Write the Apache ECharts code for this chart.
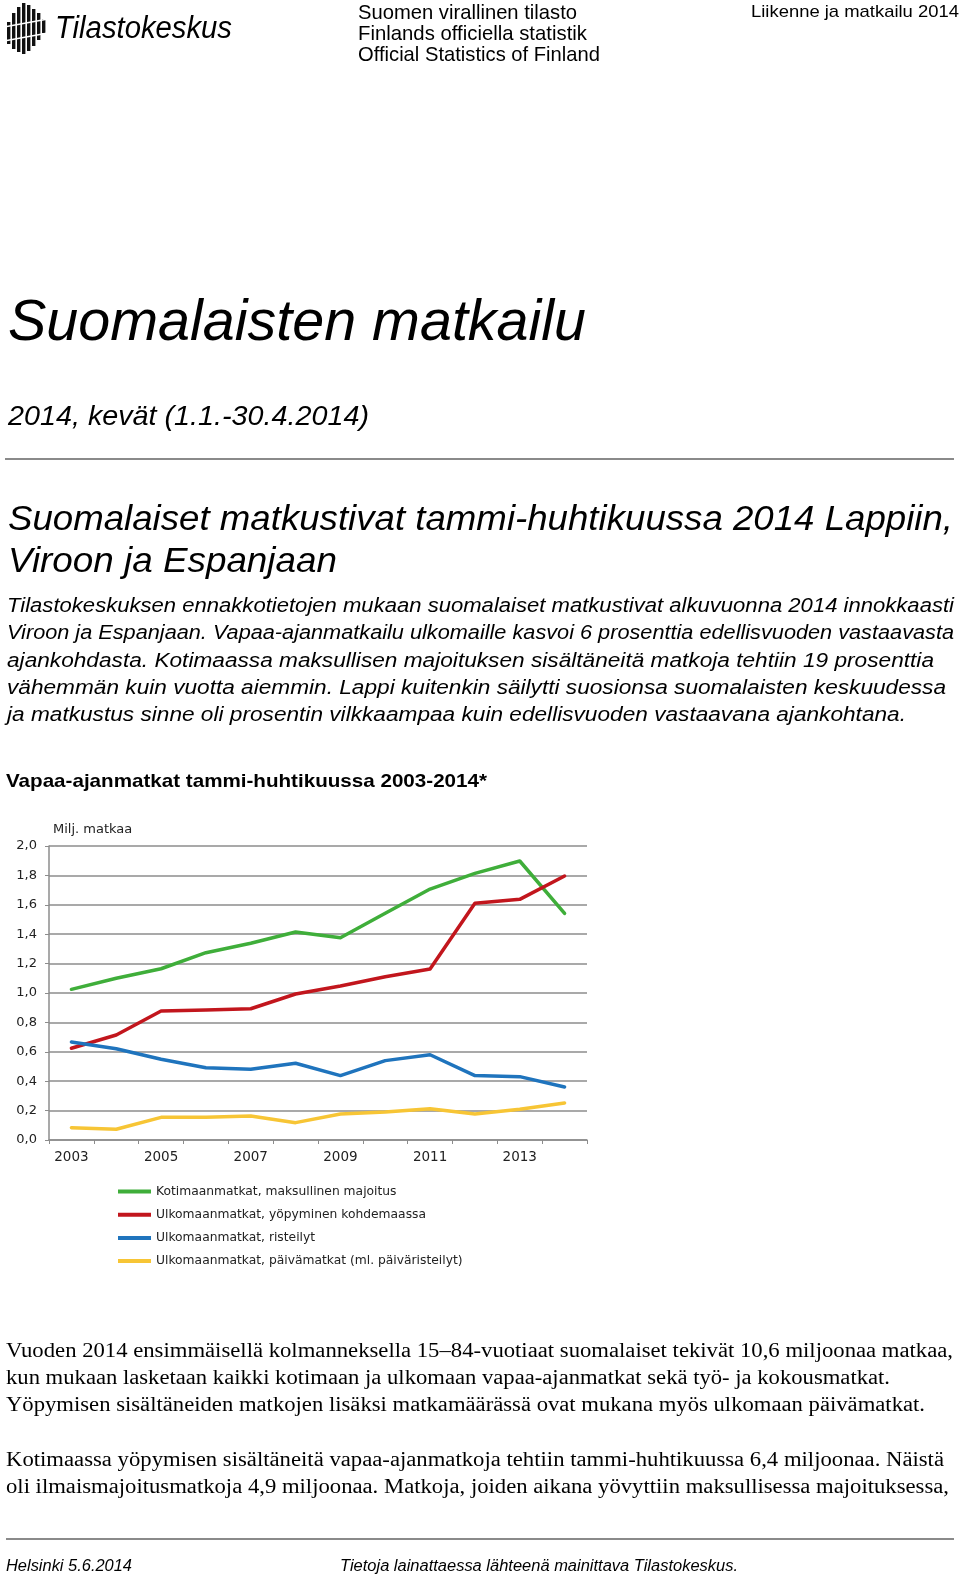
<!DOCTYPE html>
<html><head><meta charset="utf-8">
<script src="https://cdn.jsdelivr.net/npm/echarts@6/dist/echarts.min.js"></script>
<style>
html,body{margin:0;padding:0;background:#fff;}
#page{position:relative;width:960px;height:1579px;overflow:hidden;background:#fff;}
#chart{position:absolute;left:0;top:0;width:960px;height:1579px;}
.t{position:absolute;white-space:nowrap;transform-origin:0 0;color:#000;}
.rule{position:absolute;height:2px;background:#8a8a8a;}
</style></head>
<body><div id="page"><div id="chart"></div></div>
<script>
// ---------- data ----------
const years = ['2003','2004','2005','2006','2007','2008','2009','2010','2011','2012','2013','2014'];
const kotimaanMaksullinen = [1.025,1.10,1.165,1.274,1.338,1.415,1.376,1.542,1.707,1.814,1.898,1.542];
const ulkomaanYopyminen   = [0.624,0.714,0.878,0.884,0.893,0.993,1.048,1.111,1.163,1.610,1.637,1.796];
const ulkomaanRisteilyt   = [0.667,0.621,0.549,0.492,0.481,0.522,0.438,0.540,0.580,0.438,0.431,0.361];
const ulkomaanPaivamatkat = [0.084,0.073,0.154,0.154,0.163,0.118,0.177,0.190,0.213,0.177,0.209,0.252];
const seriesNames = ['Kotimaanmatkat, maksullinen majoitus','Ulkomaanmatkat, yöpyminen kohdemaassa','Ulkomaanmatkat, risteilyt','Ulkomaanmatkat, päivämatkat (ml. päiväristeilyt)'];
const yTicks = {min:0, max:2, interval:0.2};
const yAxisName = 'Milj. matkaa';

const headerLines = ['Suomen virallinen tilasto','Finlands officiella statistik','Official Statistics of Finland'];
const leadLines = [
 'Tilastokeskuksen ennakkotietojen mukaan suomalaiset matkustivat alkuvuonna 2014 innokkaasti',
 'Viroon ja Espanjaan. Vapaa-ajanmatkailu ulkomaille kasvoi 6 prosenttia edellisvuoden vastaavasta',
 'ajankohdasta. Kotimaassa maksullisen majoituksen sisältäneitä matkoja tehtiin 19 prosenttia',
 'vähemmän kuin vuotta aiemmin. Lappi kuitenkin säilytti suosionsa suomalaisten keskuudessa',
 'ja matkustus sinne oli prosentin vilkkaampaa kuin edellisvuoden vastaavana ajankohtana.'];
const bodyLines = [
 'Vuoden 2014 ensimmäisellä kolmanneksella 15–84-vuotiaat suomalaiset tekivät 10,6 miljoonaa matkaa,',
 'kun mukaan lasketaan kaikki kotimaan ja ulkomaan vapaa-ajanmatkat sekä työ- ja kokousmatkat.',
 'Yöpymisen sisältäneiden matkojen lisäksi matkamäärässä ovat mukana myös ulkomaan päivämatkat.',
 'Kotimaassa yöpymisen sisältäneitä vapaa-ajanmatkoja tehtiin tammi-huhtikuussa 6,4 miljoonaa. Näistä',
 'oli ilmaismajoitusmatkoja 4,9 miljoonaa. Matkoja, joiden aikana yövyttiin maksullisessa majoituksessa,'];

// ---------- page text ----------
const page = document.getElementById('page');
const SANS = '"Liberation Sans", Arial, sans-serif';
const SERIF = '"Liberation Serif", "Times New Roman", serif';
const CHARTFONT = '"DejaVu Sans", Verdana, sans-serif';
function T(text, x, baseline, size, width, opts){
  opts = opts || {};
  const d = document.createElement('div');
  d.className = 't';
  d.textContent = text;
  const serif = opts.serif;
  d.style.fontFamily = serif ? SERIF : SANS;
  d.style.fontSize = size + 'px';
  d.style.lineHeight = size + 'px';
  d.style.fontStyle = opts.italic ? 'italic' : 'normal';
  d.style.fontWeight = opts.bold ? 'bold' : 'normal';
  d.style.left = x + 'px';
  d.style.top = (baseline - (serif ? 0.8375 : 0.8465) * size) + 'px';
  if (width) d.dataset.w = width;
  page.appendChild(d);
  return d;
}
function R(x, y, w){ const r=document.createElement('div'); r.className='rule'; r.style.left=x+'px'; r.style.top=y+'px'; r.style.width=w+'px'; page.appendChild(r); }

// logo mark
const svgNS='http://www.w3.org/2000/svg';
const svg=document.createElementNS(svgNS,'svg');
svg.setAttribute('width','50');svg.setAttribute('height','58');
svg.style.position='absolute';svg.style.left='0px';svg.style.top='0px';
const cols=[[7,22,44],[12,13,49],[17,7,52],[22,3,54],[27,5,51],[32,9,46],[37,13,40],[42,19,33]];
cols.forEach(c=>{const r=document.createElementNS(svgNS,'rect');r.setAttribute('x',c[0]);r.setAttribute('y',c[1]);r.setAttribute('width',3.4);r.setAttribute('height',c[2]-c[1]);r.setAttribute('fill','#111');svg.appendChild(r);});
[[4,27,48,19],[4,41,48,33]].forEach(g=>{const l=document.createElementNS(svgNS,'line');l.setAttribute('x1',g[0]);l.setAttribute('y1',g[1]);l.setAttribute('x2',g[2]);l.setAttribute('y2',g[3]);l.setAttribute('stroke','#fff');l.setAttribute('stroke-width','1.6');svg.appendChild(l);});
page.appendChild(svg);

T('Tilastokeskus', 55, 38, 31, 177, {italic:true});
T(headerLines[0], 358, 19, 21, 219);
T(headerLines[1], 358, 39.5, 21, 229);
T(headerLines[2], 358, 60.5, 21, 242);
T('Liikenne ja matkailu 2014', 751, 17, 17, 208);

T('Suomalaisten matkailu', 8, 340, 58, 578, {italic:true});
T('2014, kevät (1.1.-30.4.2014)', 8, 425.7, 27.5, 361, {italic:true});
R(5, 458, 949);
T('Suomalaiset matkustivat tammi-huhtikuussa 2014 Lappiin,', 8, 530, 35, 945, {italic:true});
T('Viroon ja Espanjaan', 8, 571.7, 35, 329, {italic:true});
const leadW=[947,947,927,939,899];
leadLines.forEach((s,i)=>T(s, 7, 612.7+27.2*i, 19.5, leadW[i], {italic:true}));
T('Vapaa-ajanmatkat tammi-huhtikuussa 2003-2014*', 6, 787, 19, 481, {bold:true});
const bodyW=[947,884,919,938,943];
const bodyBase=[1356.7,1383.9,1411.1,1465.5,1492.7];
bodyLines.forEach((s,i)=>T(s, 6, bodyBase[i], 20, bodyW[i], {serif:true}));
R(6, 1538, 948);
T('Helsinki 5.6.2014', 6, 1571.5, 16, 126, {italic:true});
T('Tietoja lainattaessa lähteenä mainittava Tilastokeskus.', 340, 1571.5, 16, 398, {italic:true});

function fit(){
  document.querySelectorAll('[data-w]').forEach(el=>{
    el.style.transform='none';
    const w=el.getBoundingClientRect().width;
    if(w>0) el.style.transform='scaleX('+(parseFloat(el.dataset.w)/w)+')';
  });
}
fit();
if (document.fonts && document.fonts.ready) document.fonts.ready.then(fit);

// ---------- chart ----------
const colors=['#3fae3a','#c2161d','#1f74bd','#f7c535'];
const chart=echarts.init(document.getElementById('chart'),null,{renderer:'canvas'});
const axisGray='#8c8c8c';
const dataSets=[kotimaanMaksullinen,ulkomaanYopyminen,ulkomaanRisteilyt,ulkomaanPaivamatkat];
chart.setOption({
  animation:false,
  backgroundColor:'transparent',
  color:colors,
  grid:{left:49,top:846,width:538,height:294,containLabel:false},
  legend:{
    orient:'vertical',left:113,top:1179.5,itemWidth:33,itemHeight:4,itemGap:9.2,
    icon:'rect',
    textStyle:{fontFamily:CHARTFONT,fontSize:12.3,color:'#222',lineHeight:14},
    data:seriesNames
  },
  xAxis:{
    type:'category',data:years,boundaryGap:true,
    axisLine:{lineStyle:{color:axisGray,width:1.5}},
    axisTick:{show:true,interval:0,length:4,lineStyle:{color:axisGray}},
    axisLabel:{interval:1,margin:10,fontFamily:CHARTFONT,fontSize:13.5,color:'#222'},
    splitLine:{show:false}
  },
  yAxis:{
    type:'value',min:yTicks.min,max:yTicks.max,interval:yTicks.interval,
    name:yAxisName,nameLocation:'end',nameGap:10,
    nameTextStyle:{fontFamily:CHARTFONT,fontSize:13,color:'#222',align:'left',verticalAlign:'bottom',padding:[0,0,0,4]},
    axisLine:{show:true,lineStyle:{color:axisGray,width:1.5}},
    axisTick:{show:true,length:4,lineStyle:{color:axisGray}},
    axisLabel:{margin:12,fontFamily:CHARTFONT,fontSize:13,color:'#222',formatter:v=>v.toFixed(1).replace('.',',')},
    splitLine:{show:true,lineStyle:{color:axisGray,width:1.5}}
  },
  series:seriesNames.map((n,i)=>({
    name:n,type:'line',data:dataSets[i],symbol:'none',smooth:false,
    lineStyle:{width:3.5,color:colors[i],join:'round',cap:'round'},
    itemStyle:{color:colors[i]}
  }))
});
</script></body></html>
